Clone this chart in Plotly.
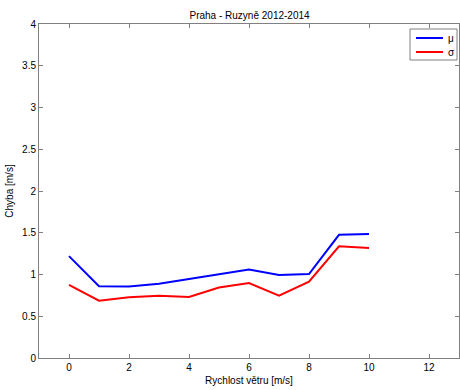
import plotly.graph_objects as go

# Wind speed bins [m/s]
speed = [0, 1, 2, 3, 4, 5, 6, 7, 8, 9, 10]
# Forecast error statistics [m/s]
mu = [1.22, 0.86, 0.855, 0.89, 0.945, 1.005, 1.06, 0.995, 1.005, 1.475, 1.485]
sigma = [0.875, 0.687, 0.727, 0.747, 0.731, 0.845, 0.897, 0.747, 0.915, 1.338, 1.318]

x_ticks = [0, 2, 4, 6, 8, 10, 12]
y_ticks = [0, 0.5, 1, 1.5, 2, 2.5, 3, 3.5, 4]
y_tick_text = ["0", "0.5", "1", "1.5", "2", "2.5", "3", "3.5", "4"]

series = [("\u03bc", mu, "#0000ff"), ("\u03c3", sigma, "#ff0000")]

font_family = "Liberation Sans, Arial, sans-serif"
axis_color = "#808080"

W, H = 460, 390
M_L, M_R, M_T, M_B = 39, 1, 24, 32
PW, PH = W - M_L - M_R, H - M_T - M_B


def px_x(p):
    return (p - M_L) / PW


def px_y(p):
    return (H - M_B - p) / PH


fig = go.Figure()
for name, vals, col in series:
    fig.add_trace(go.Scatter(x=speed, y=vals, mode="lines", name=name,
                             line=dict(color=col, width=2), showlegend=False))

axis_common = dict(
    showgrid=False, zeroline=False, showline=True, linecolor=axis_color,
    linewidth=1, mirror="ticks", ticks="inside", ticklen=4, tickcolor=axis_color,
    tickfont=dict(family=font_family, size=10, color="#000000"),
)

# Legend box drawn in the MATLAB style: compact frame with short line samples
shapes = [dict(type="rect", xref="paper", yref="paper",
               x0=px_x(410), x1=px_x(457), y0=px_y(60), y1=px_y(29),
               line=dict(color=axis_color, width=1), fillcolor="white", layer="above")]
annotations = []
for i, (name, vals, col) in enumerate(series):
    yy = px_y(38 + 14 * i)
    shapes.append(dict(type="line", xref="paper", yref="paper",
                       x0=px_x(416), x1=px_x(443), y0=yy, y1=yy,
                       line=dict(color=col, width=2), layer="above"))
    annotations.append(dict(text=name, xref="paper", yref="paper",
                            x=px_x(446), y=yy, xanchor="left", yanchor="middle",
                            showarrow=False,
                            font=dict(family=font_family, size=10, color="#000000")))

fig.update_layout(
    width=W, height=H,
    margin=dict(l=M_L, r=M_R, t=M_T, b=M_B),
    paper_bgcolor="white", plot_bgcolor="white",
    font=dict(family=font_family, size=10, color="#000000"),
    title=dict(text="Praha - Ruzyn\u011b 2012-2014", x=0.5425, xanchor="center",
               y=1 - 15 / H, yanchor="middle",
               font=dict(family=font_family, size=10, color="#000000")),
    xaxis=dict(range=[-1, 13], tickvals=x_ticks,
               title=dict(text="Rychlost v\u011btru [m/s]", standoff=4,
                          font=dict(family=font_family, size=10)),
               **axis_common),
    yaxis=dict(range=[0, 4], tickvals=y_ticks, ticktext=y_tick_text,
               title=dict(text="Chyba [m/s]", standoff=6,
                          font=dict(family=font_family, size=10)),
               **axis_common),
    showlegend=False,
    shapes=shapes,
    annotations=annotations,
)

fig.write_html("out.html")
